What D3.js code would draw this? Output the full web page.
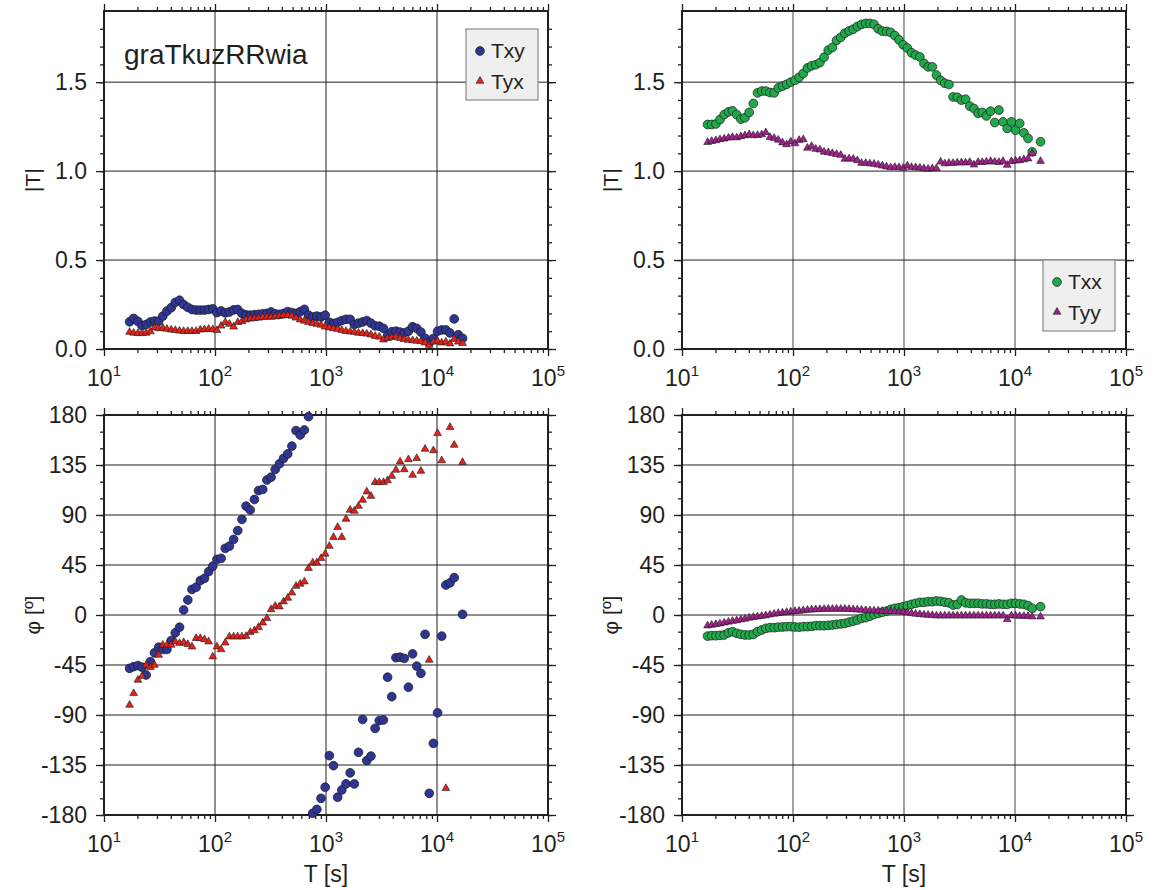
<!DOCTYPE html>
<html>
<head>
<meta charset="utf-8">
<script src="https://cdn.jsdelivr.net/npm/d3@7"></script>
<style>
body { margin: 0; background: #fff; }
svg text { font-family: "Liberation Sans", Arial, Helvetica, sans-serif; fill: #231f20; }
</style>
</head>
<body>
<div class="container"></div>
<script>
// periods (s)
var periods = [17.0, 18.5, 20.2, 22.0, 24.0, 26.2, 28.5, 31.1, 33.9, 36.9,
  40.3, 43.9, 47.9, 52.2, 56.9, 62.0, 67.6, 73.7, 80.4, 87.6,
  95.5, 104.1, 113.5, 123.7, 134.9, 147.1, 160.3, 174.8, 190.5, 207.7,
  226.5, 246.9, 269.2, 293.4, 319.9, 348.7, 380.2, 414.5, 451.9, 492.7,
  537, 585.5, 638.3, 695.8, 758.6, 827, 901.6, 982.9, 1071.5, 1168.1,
  1273.5, 1388.4, 1513.6, 1650.1, 1798.9, 1961.1, 2138, 2330.8, 2541, 2770.2,
  3020, 3292.3, 3589.2, 3912.9, 4265.8, 4650.5, 5070, 5527.1, 6025.6, 6569,
  7161.4, 7807.3, 8511.4, 9279, 10116, 11028, 12023, 13107, 14289, 15578, 16982];

var txyAmp = [0.153, 0.172, 0.155, 0.131, 0.138, 0.152, 0.157, 0.157, 0.185, 0.213,
  0.232, 0.262, 0.274, 0.25, 0.234, 0.222, 0.219, 0.219, 0.219, 0.222,
  0.226, 0.205, 0.214, 0.203, 0.208, 0.22, 0.222, 0.2, 0.192, 0.19,
  0.193, 0.195, 0.198, 0.2, 0.208, 0.198, 0.195, 0.2, 0.21, 0.205,
  0.2, 0.21, 0.223, 0.19, 0.18, 0.185, 0.18, 0.19, 0.15, 0.144,
  0.15, 0.16, 0.167, 0.167, 0.138, 0.145, 0.152, 0.16, 0.145, 0.13,
  0.128, 0.116, 0.075, 0.097, 0.1, 0.095, 0.09, 0.1, 0.125, 0.116,
  0.095, 0.06, 0.035, 0.06, 0.1, 0.107, 0.107, 0.09, 0.169, 0.08, 0.06];
var tyxAmp = [0.095, 0.09, 0.088, 0.088, 0.09, 0.098, 0.12, 0.115, 0.118, 0.112,
  0.108, 0.105, 0.102, 0.1, 0.1, 0.1, 0.1, 0.108, 0.11, 0.112,
  0.11, 0.105, 0.13, 0.15, 0.14, 0.125, 0.15, 0.155, 0.165, 0.17,
  0.172, 0.175, 0.178, 0.18, 0.18, 0.182, 0.185, 0.188, 0.19, 0.185,
  0.175, 0.165, 0.158, 0.15, 0.145, 0.14, 0.135, 0.125, 0.12, 0.115,
  0.112, 0.105, 0.1, 0.097, 0.095, 0.09, 0.088, 0.085, 0.08, 0.072,
  0.068, 0.052, 0.06, 0.065, 0.07, 0.06, 0.055, 0.05, 0.048, 0.045,
  0.042, 0.035, 0.022, 0.04, 0.045, 0.035, 0.04, 0.03, 0.055, 0.04, 0.032];
var txxAmp = [1.262, 1.262, 1.265, 1.29, 1.318, 1.333, 1.339, 1.318, 1.292, 1.3,
  1.33, 1.38, 1.44, 1.45, 1.45, 1.442, 1.44, 1.468, 1.478, 1.488,
  1.5, 1.51, 1.527, 1.549, 1.58, 1.592, 1.598, 1.61, 1.64, 1.68,
  1.695, 1.735, 1.752, 1.775, 1.788, 1.798, 1.813, 1.825, 1.83, 1.83,
  1.825, 1.8, 1.787, 1.785, 1.78, 1.762, 1.738, 1.71, 1.692, 1.665,
  1.652, 1.642, 1.605, 1.586, 1.586, 1.54, 1.51, 1.494, 1.487, 1.417,
  1.415, 1.399, 1.404, 1.365, 1.352, 1.325, 1.33, 1.31, 1.337, 1.273,
  1.343, 1.277, 1.24, 1.277, 1.23, 1.268, 1.215, 1.184, 1.108, null, 1.165];
var tyyAmp = [1.162, 1.168, 1.172, 1.178, 1.182, 1.187, 1.19, 1.188, 1.195, 1.2,
  1.206, 1.2, 1.202, 1.205, 1.217, 1.19, 1.185, 1.175, 1.16, 1.15,
  1.165, 1.155, 1.174, 1.178, 1.13, 1.14, 1.124, 1.12, 1.108, 1.105,
  1.1, 1.095, 1.09, 1.068, 1.07, 1.068, 1.06, 1.045, 1.045, 1.042,
  1.04, 1.035, 1.03, 1.025, 1.02, 1.022, 1.02, 1.018, 1.03, 1.022,
  1.02, 1.018, 1.015, 1.012, 1.015, 1.015, 1.052, 1.042, 1.045, 1.045,
  1.047, 1.048, 1.047, 1.05, 1.036, 1.05, 1.05, 1.052, 1.055, 1.052,
  1.05, 1.055, 1.034, 1.055, 1.058, 1.06, 1.065, 1.07, 1.1, null, 1.056];

var txyPhase = [-48, -46.5, -45.5, -47, -54, -42, -34, -29, -31, -31,
  -23, -16, -11, 4.5, 13.5, 23, 25, 31, 33, 39,
  44, 50, 51, 60, 62, 68, 76, 86, 98, 94.5,
  104, 112, 113, 121.5, 124, 131, 136, 141, 145, 152,
  166, 162, 166.5, 178.5, -178.5, -175, -165, -155, -126.6, -135.6,
  -164, -157.5, -152, -142, -152, -123.6, -94, -131, -127, -102,
  -95, -94.5, -56, -73.5, -38.4, -38, -39, -65, -35, -46,
  -52.5, -17.4, -160.5, -115.5, -88, -19, 27, 29, 33.6, null, 0.6];
var tyxPhase = [-81, -70.5, -58.5, -55, -45, -47, -45, -36, -27, -27,
  -27, -24, -25.5, -24.6, -26.4, -28.5, -21, -21, -22, -24,
  -37.5, -28.5, -31, -25, -19.5, -19.5, -19.5, -19.5, -19, -15.6,
  -14, -11, -7, -3, 5, 8, 7.5, 12, 15.3, 20,
  26, 28, 30, 42, 47, 47, 51, 55, 62, 70,
  79, 70, 86.4, 94.5, 93.6, 98, 103.5, 111, 107, 119.4,
  119.4, 119.4, 121, 125, 130.5, 138, 131, 140, 126, 141,
  129.6, 149.4, -40.5, 148, 163.5, 139, -156, 169, 153, null, 137.4];
var txxPhase = [-19, -18.6, -18.6, -18.3, -18, -16, -15, -16.5, -17.4, -18,
  -18, -17.4, -15, -13.5, -12, -11.4, -11.4, -11, -10.8, -10.5,
  -10.5, -10.8, -11, -10.5, -10.5, -10.2, -9.6, -9.6, -9.6, -9.3,
  -9, -8.5, -8, -7.5, -6.5, -5.5, -4.5, -3, -2.4, -1,
  0.5, 1.5, 2.5, 3.5, 5, 6, 6.6, 7.5, 8.5, 9.6,
  10.5, 11.4, 11.4, 12, 12, 12.6, 12.3, 11.5, 11, 9,
  9.5, 13.5, 11, 10.5, 10.5, 10.5, 10, 10, 9.6, 9.6,
  10, 9.6, 9.6, 10.5, 10.5, 10, 9.6, 8.4, 6, null, 7.5];
var tyyPhase = [-9.6, -9, -8.4, -7.8, -7, -6.2, -5.5, -5, -4.2, -3.5,
  -2.6, -2, -1.5, -1, -0.5, 0.3, 1, 1.5, 2, 2.5,
  3, 3.3, 3.6, 4, 4.5, 4.8, 5, 5.1, 5.3, 5.4,
  5.4, 5.4, 5.4, 5.4, 5.2, 5, 4.8, 4.5, 4.2, 4,
  3.9, 3.8, 3.6, 3.4, 3.2, 3, 3, 2.8, 2.2, 1.5,
  1, 0.6, 0.2, 0, -0.3, -0.6, -0.6, -0.6, -0.6, -0.6,
  -0.6, -0.6, -0.6, -0.6, -0.6, -0.6, -0.6, -0.6, -0.6, -0.6,
  -0.6, -0.6, -3.9, -0.6, -0.6, -1, -1, -1, -1.5, null, -1.5];

// axis ticks
var xDecades = [1, 2, 3, 4, 5];
var ampTicks = [0, 0.5, 1.0, 1.5];
var phaseTicks = [-180, -135, -90, -45, 0, 45, 90, 135, 180];

var colors = {txy: "#2e3592", tyx: "#e2231a", txx: "#20a84a", tyy: "#a2218e"};

var svg = d3.select(".container").append("svg")
  .attr("width", 1157).attr("height", 890);

var pw = 444;
var x = d3.scaleLog().domain([10, 1e5]).range([0, pw]);
var yAmp = d3.scaleLinear().domain([0, 1.9]).range([338, 0]);
var yPh = d3.scaleLinear().domain([-180, 180]).range([400, 0]);

var xMajors = xDecades.map(function(d) { return Math.pow(10, d); });
var xMinors = [];
xDecades.slice(0, 4).forEach(function(d) {
  for (var k = 2; k < 10; k++) xMinors.push(k * Math.pow(10, d));
});

function pts(vals) {
  return periods.map(function(p, i) { return {p: p, v: vals[i]}; })
    .filter(function(d) { return d.v !== null; });
}

function styleAxis(a) {
  a.attr("font-size", null).attr("font-family", null);
  a.select(".domain").remove();
  a.selectAll("line").style("stroke", "#231f20").style("stroke-width", 1.3);
}

function drawPanel(px, py, y, yMajors, yMinors, fmt, vgrid) {
  var g = svg.append("g").attr("transform", "translate(" + px + "," + py + ")");
  var h = y.range()[0];

  g.selectAll(".vg").data([100, 1000, 10000]).enter().append("line")
    .attr("x1", function(d) { return x(d); }).attr("x2", function(d) { return x(d); })
    .attr("y1", 0).attr("y2", h)
    .style("stroke", vgrid).style("stroke-width", vgrid == "#231f20" ? 1 : 1.4);
  g.selectAll(".hg").data(yMajors.filter(function(d) { return y(d) > 2 && y(d) < h - 2; }))
    .enter().append("line")
    .attr("x1", 0).attr("x2", pw)
    .attr("y1", function(d) { return y(d); }).attr("y2", function(d) { return y(d); })
    .style("stroke", "#231f20").style("stroke-width", 1);

  // ticks on all four sides
  g.append("g").attr("transform", "translate(0," + h + ")")
    .call(d3.axisBottom(x).tickValues(xMajors).tickSize(7).tickFormat("")).call(styleAxis);
  g.append("g").attr("transform", "translate(0," + h + ")")
    .call(d3.axisBottom(x).tickValues(xMinors).tickSize(4).tickFormat("")).call(styleAxis);
  g.append("g").call(d3.axisTop(x).tickValues(xMajors).tickSize(7).tickFormat("")).call(styleAxis);
  g.append("g").call(d3.axisTop(x).tickValues(xMinors).tickSize(4).tickFormat("")).call(styleAxis);

  var left = g.append("g")
    .call(d3.axisLeft(y).tickValues(yMajors).tickSize(8).tickPadding(9).tickFormat(fmt));
  styleAxis(left);
  left.selectAll("text").style("font-size", "23px");
  g.append("g").call(d3.axisLeft(y).tickValues(yMinors).tickSize(4).tickFormat("")).call(styleAxis);
  g.append("g").attr("transform", "translate(" + pw + ",0)")
    .call(d3.axisRight(y).tickValues(yMajors).tickSize(8).tickFormat("")).call(styleAxis);
  g.append("g").attr("transform", "translate(" + pw + ",0)")
    .call(d3.axisRight(y).tickValues(yMinors).tickSize(4).tickFormat("")).call(styleAxis);

  // 10^n labels
  var lab = g.selectAll(".xl").data(xDecades).enter().append("text")
    .attr("x", function(d) { return x(Math.pow(10, d)); })
    .attr("y", h + 37)
    .attr("text-anchor", "middle")
    .style("font-size", "23px")
    .text("10");
  lab.append("tspan").attr("dy", -10).style("font-size", "15px")
    .text(function(d) { return d; });

  g.append("rect").attr("width", pw).attr("height", h)
    .style("fill", "none").style("stroke", "#231f20").style("stroke-width", 2);
  return g;
}

function drawCircles(g, y, vals, color) {
  g.selectAll(null).data(pts(vals)).enter().append("circle")
    .attr("cx", function(d) { return x(d.p); })
    .attr("cy", function(d) { return y(d.v); })
    .attr("r", 4.4)
    .style("fill", color).style("stroke", "#1a1a1a").style("stroke-width", 0.7);
}

function drawTriangles(g, y, vals, color) {
  var tri = d3.symbol().type(d3.symbolTriangle).size(26);
  g.selectAll(null).data(pts(vals)).enter().append("path")
    .attr("d", tri)
    .attr("transform", function(d) { return "translate(" + x(d.p) + "," + y(d.v) + ")"; })
    .style("fill", color).style("stroke", "#1a1a1a").style("stroke-width", 0.6);
}

function drawLegend(bx, by, names, cols) {
  var lg = svg.append("g").attr("transform", "translate(" + bx + "," + by + ")");
  lg.append("rect").attr("width", 72).attr("height", 71)
    .style("fill", "#efeff0").style("stroke", "#8a8a8a").style("stroke-width", 1.2);
  lg.append("circle").attr("cx", 14).attr("cy", 22).attr("r", 4.4)
    .style("fill", cols[0]).style("stroke", "#1a1a1a").style("stroke-width", 0.7);
  lg.append("path").attr("d", d3.symbol().type(d3.symbolTriangle).size(26))
    .attr("transform", "translate(14,52)")
    .style("fill", cols[1]).style("stroke", "#1a1a1a").style("stroke-width", 0.6);
  lg.selectAll("text").data(names).enter().append("text")
    .attr("x", 25).attr("y", function(d, i) { return 29 + i * 31; })
    .style("font-size", "21px").text(function(d) { return d; });
}

var ampMinor = d3.range(0, 19).map(function(d) { return d / 10; });
var phMinor = d3.range(-180, 181, 15);
var fAmp = d3.format(".1f");
var fPh = function(d) { return String(d); };

// top left
var g1 = drawPanel(104, 11, yAmp, ampTicks, ampMinor, fAmp, "#231f20");
drawCircles(g1, yAmp, txyAmp, colors.txy);
drawTriangles(g1, yAmp, tyxAmp, colors.tyx);
g1.append("text").attr("x", 20).attr("y", 53).style("font-size", "28px").text("graTkuzRRwia");
drawLegend(466, 29, ["Txy", "Tyx"], [colors.txy, colors.tyx]);

// top right
var g2 = drawPanel(682, 11, yAmp, ampTicks, ampMinor, fAmp, "#7a7a7a");
drawCircles(g2, yAmp, txxAmp, colors.txx);
drawTriangles(g2, yAmp, tyyAmp, colors.tyy);
drawLegend(1043, 260, ["Txx", "Tyy"], [colors.txx, colors.tyy]);

// bottom left
var g3 = drawPanel(104, 415, yPh, phaseTicks, phMinor, fPh, "#231f20");
drawCircles(g3, yPh, txyPhase, colors.txy);
drawTriangles(g3, yPh, tyxPhase, colors.tyx);

// bottom right
var g4 = drawPanel(682, 415, yPh, phaseTicks, phMinor, fPh, "#7a7a7a");
drawCircles(g4, yPh, txxPhase, colors.txx);
drawTriangles(g4, yPh, tyyPhase, colors.tyy);

// axis titles
[[40, 180, "|T|"], [618, 180, "|T|"], [40, 615, "φ [º]"], [618, 615, "φ [º]"]].forEach(function(t) {
  svg.append("text").attr("transform", "translate(" + t[0] + "," + t[1] + ") rotate(-90)")
    .attr("text-anchor", "middle").style("font-size", "21px").text(t[2]);
});
[326, 904].forEach(function(cx) {
  svg.append("text").attr("x", cx).attr("y", 882).attr("text-anchor", "middle")
    .style("font-size", "23px").text("T [s]");
});
</script>
</body>
</html>
